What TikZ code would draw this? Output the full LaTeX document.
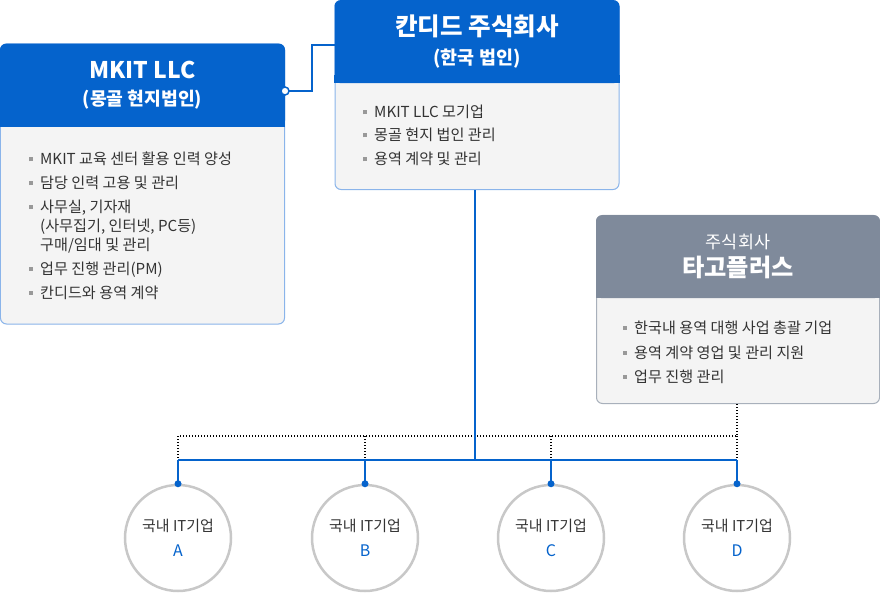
\documentclass[tikz,border=0pt]{standalone}
\usepackage{fontspec}
\setmainfont{Noto Sans CJK KR}
\usetikzlibrary{positioning,calc}
\definecolor{hdblue}{HTML}{0563CC}
\definecolor{hdgray}{HTML}{7F8A9B}
\definecolor{bodyfill}{HTML}{F4F4F4}
\definecolor{bborder}{HTML}{8AB4EA}
\definecolor{gborder}{HTML}{A8B0BB}
\definecolor{cgray}{HTML}{C8C8C8}
\definecolor{txt}{HTML}{333333}
\definecolor{bulgray}{HTML}{999999}
\newcommand{\bul}{\textcolor{bulgray}{\rule[3.5bp]{4bp}{4bp}}\hspace{7bp}}
\tikzset{
  box/.style={rectangle, rounded corners=6bp, draw=bborder, line width=1bp, fill=bodyfill, inner sep=0},
  headblue/.style={rectangle, rounded corners=6bp, fill=hdblue, text=white, align=center, inner sep=0},
  headgray/.style={rectangle, rounded corners=6bp, fill=hdgray, text=white, align=center, inner sep=0},
  item/.style={anchor=base west, inner sep=0, text=txt, font=\fontsize{15.2}{19}\selectfont},
  comp/.style={circle, draw=cgray, line width=2.5bp, fill=white, minimum size=106bp, inner sep=0, align=center, text=txt, font=\fontsize{15}{25}\selectfont},
  dot/.style={circle, fill=hdblue, inner sep=0, minimum size=7bp},
  hdot/.style={circle, draw=hdblue, fill=white, line width=1.5bp, inner sep=0, minimum size=8bp},
  bline/.style={draw=hdblue, line width=1.5bp},
  dline/.style={draw=black, line width=1.2bp, dash pattern=on 1.2bp off 1.8bp}
}
\begin{document}
\begin{tikzpicture}[x=1bp, y=-1bp]
\useasboundingbox (0,0) rectangle (880,593);

% MKIT LLC
\node[box, minimum width=284bp, minimum height=280bp] (mkit) at (142.5,184) {};
\node[headblue, minimum width=285bp, minimum height=83bp, anchor=north, font=\bfseries\fontsize{18.3}{28}\selectfont] (mkith) at (mkit.north)
     {{\fontsize{23}{28}\selectfont MKIT LLC}\\(몽골 현지법인)};
\fill[hdblue] ($(mkith.south west)+(0,-8)$) rectangle (mkith.south east);
\node[item] (m1) at (29,165) {\bul MKIT 교육 센터 활용 인력 양성};
\node[item] (m2) at (29,189) {\bul 담당 인력 고용 및 관리};
\node[item] (m3) at (29,213) {\bul\parbox[t]{220bp}{사무실, 기자재\\(사무집기, 인터넷, PC등)\\구매/임대 및 관리}};
\node[item] (m4) at (29,274) {\bul 업무 진행 관리(PM)};
\node[item] (m5) at (29,298) {\bul 칸디드와 용역 계약};

% Kandid
\node[box, minimum width=284bp, minimum height=189bp] (kand) at (477,95) {};
\node[headblue, minimum width=285bp, minimum height=83bp, anchor=north, font=\bfseries\fontsize{18.5}{29}\selectfont] (kandh) at (kand.north)
     {{\fontsize{24.6}{29}\selectfont 칸디드 주식회사}\\(한국 법인)};
\fill[hdblue] ($(kandh.south west)+(0,-8)$) rectangle (kandh.south east);
\node[item] (k1) at (363,118) {\bul MKIT LLC 모기업};
\node[item] (k2) at (363,141) {\bul 몽골 현지 법인 관리};
\node[item] (k3) at (363,165) {\bul 용역 계약 및 관리};

% Tagoplus
\node[box, draw=gborder, minimum width=283bp, minimum height=188bp] (tago) at (738,309.5) {};
\node[headgray, minimum width=284bp, minimum height=83bp, anchor=north, font=\fontsize{17.5}{28}\selectfont] (tagoh) at (tago.north)
     {주식회사\\{\bfseries\fontsize{24.3}{28}\selectfont 타고플러스}};
\fill[hdgray] ($(tagoh.south west)+(0,-8)$) rectangle (tagoh.south east);
\node[item] (t1) at (623,333) {\bul 한국내 용역 대행 사업 총괄 기업};
\node[item] (t2) at (623,358) {\bul 용역 계약 영업 및 관리 지원};
\node[item] (t3) at (623,382) {\bul 업무 진행 관리};

% companies
\node[comp] (ca) at (178,538) {국내 IT기업\\\textcolor{hdblue}{\fontsize{16}{25}\selectfont A}};
\node[comp] (cb) at (365,538) {국내 IT기업\\\textcolor{hdblue}{\fontsize{16}{25}\selectfont B}};
\node[comp] (cc) at (551,538) {국내 IT기업\\\textcolor{hdblue}{\fontsize{16}{25}\selectfont C}};
\node[comp] (cd) at (737,538) {국내 IT기업\\\textcolor{hdblue}{\fontsize{16}{25}\selectfont D}};

% links
\coordinate (bus) at (475,460);
\coordinate (dl) at (178,436);
\coordinate (kl) at (312,45);
\draw[dline] (tago.south -| cd) -- (cd |- dl) -- (dl);
\path[dline]
    (ca |- dl) edge (ca |- bus)
    (cb |- dl) edge (cb |- bus)
    (cc |- dl) edge (cc |- bus)
    (cd |- dl) edge (cd |- bus);
\draw[bline] (kand.south -| bus) -- (bus);
\draw[bline] (ca |- bus) -- (cd |- bus);
\path[bline]
    (ca |- bus) edge (ca.north)
    (cb |- bus) edge (cb.north)
    (cc |- bus) edge (cc.north)
    (cd |- bus) edge (cd.north);
\node[dot] (pa) at (ca.north) {};
\node[dot] (pb) at (cb.north) {};
\node[dot] (pc) at (cc.north) {};
\node[dot] (pd) at (cd.north) {};

\coordinate (ml) at (285,91);
\draw[bline] (ml) -| (kl) -- (kand.west |- kl);
\node[hdot] (d0) at (ml) {};
\end{tikzpicture}
\end{document}
